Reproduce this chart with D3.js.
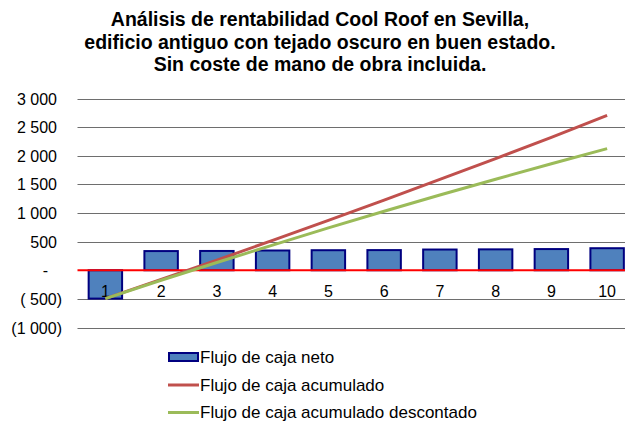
<!DOCTYPE html>
<html>
<head>
<meta charset="utf-8">
<script src="https://cdn.jsdelivr.net/npm/d3@7"></script>
<style>
  html, body { margin: 0; padding: 0; background: #fff; }
  svg { display: block; font-family: Arial, "Liberation Sans", sans-serif; }
</style>
</head>
<body>
<svg id="chart" width="625" height="423"></svg>
<script>
// Años del análisis
const years = [1, 2, 3, 4, 5, 6, 7, 8, 9, 10];
// Flujo de caja neto por año (€)
const netFlow = [-495, 335, 337, 345, 350, 352, 362, 365, 370, 385];
// Flujo de caja acumulado (€)
const cumFlow = [-495, -160, 177, 522, 872, 1224, 1586, 1951, 2321, 2706];
// Flujo de caja acumulado descontado (€)
const discFlow = [-495, -175, 135, 440, 740, 1030, 1315, 1590, 1860, 2125];
// Marcas del eje vertical
const yTicks = [-1000, -500, 0, 500, 1000, 1500, 2000, 2500, 3000];
const titleLines = [
  "Análisis de rentabilidad Cool Roof en Sevilla,",
  "edificio antiguo con tejado oscuro en buen estado.",
  "Sin coste de mano de obra incluida."
];
const legendLabels = ["Flujo de caja neto", "Flujo de caja acumulado", "Flujo de caja acumulado descontado"];

const colors = { barFill: "#4f81bd", barStroke: "#000080", cum: "#c0504d", disc: "#9bbb59", zero: "#ff0000", grid: "#6e6e6e" };

const svg = d3.select("#chart");

const x = d3.scaleBand().domain(years).range([77.5, 635]).paddingInner(0.4).paddingOuter(0.2);
const y = d3.scaleLinear().domain([-1000, 3000]).range([327.5, 98.5]);

// Formato contable: miles con espacio, negativos entre paréntesis, cero como guion
const grp = v => d3.format(",")(v).replace(/,/g, " ");
function acct(v) {
  if (v === 0) return "-";
  if (v < 0) return "(" + (Math.abs(v) < 1000 ? " " : "") + grp(Math.abs(v)) + ")";
  return grp(v);
}

// Título
svg.append("g").selectAll("text").data(titleLines).join("text")
  .attr("x", 320).attr("y", (d, i) => 26 + i * 22.5)
  .attr("text-anchor", "middle")
  .attr("font-size", 19.5).attr("font-weight", "bold").attr("fill", "#000")
  .text(d => d);

// Líneas de división
svg.append("g").selectAll("line").data(yTicks.filter(v => v !== 0)).join("line")
  .attr("x1", 77.5).attr("x2", 625)
  .attr("y1", d => Math.round(y(d)) + 0.5).attr("y2", d => Math.round(y(d)) + 0.5)
  .attr("stroke", colors.grid).attr("stroke-width", 1.2);

// Eje vertical (solo etiquetas)
const yAxis = svg.append("g").attr("transform", "translate(57,0)")
  .call(d3.axisLeft(y).tickValues(yTicks).tickSize(0).tickPadding(0).tickFormat(acct));
yAxis.select(".domain").remove();
yAxis.selectAll("text")
  .attr("font-size", 16).attr("fill", "#000").attr("font-family", "Arial, 'Liberation Sans', sans-serif")
  .attr("dy", "0.35em")
  .attr("x", d => d < 0 ? 5 : (d === 0 ? -9 : 0));

// Barras del flujo neto
svg.append("g").selectAll("rect").data(years).join("rect")
  .attr("x", (d) => x(d))
  .attr("width", x.bandwidth())
  .attr("y", (d, i) => y(Math.max(0, netFlow[i])))
  .attr("height", (d, i) => Math.abs(y(netFlow[i]) - y(0)))
  .attr("fill", colors.barFill).attr("stroke", colors.barStroke).attr("stroke-width", 2);

// Línea de cero
svg.append("line").attr("x1", 77.5).attr("x2", 625).attr("y1", y(0)).attr("y2", y(0))
  .attr("stroke", colors.zero).attr("stroke-width", 2);

// Etiquetas de categoría
svg.append("g").selectAll("text").data(years).join("text")
  .attr("x", d => x(d) + x.bandwidth() / 2).attr("y", 296.5)
  .attr("text-anchor", "middle").attr("font-size", 16).attr("fill", "#000")
  .text(d => d);

// Series acumuladas
const cx = d => x(d) + x.bandwidth() / 2;
const line = d3.line().x((d, i) => cx(years[i])).y(d => y(d));
svg.append("path").datum(cumFlow).attr("d", line)
  .attr("fill", "none").attr("stroke", colors.cum).attr("stroke-width", 3);
svg.append("path").datum(discFlow).attr("d", line)
  .attr("fill", "none").attr("stroke", colors.disc).attr("stroke-width", 3);

// Leyenda
const lg = svg.append("g");
const ly = [357, 385, 412.5];
lg.append("rect").attr("x", 169).attr("y", ly[0] - 4).attr("width", 29).attr("height", 8)
  .attr("fill", colors.barFill).attr("stroke", colors.barStroke).attr("stroke-width", 2);
lg.append("line").attr("x1", 168).attr("x2", 199).attr("y1", ly[1]).attr("y2", ly[1])
  .attr("stroke", colors.cum).attr("stroke-width", 3);
lg.append("line").attr("x1", 168).attr("x2", 199).attr("y1", ly[2]).attr("y2", ly[2])
  .attr("stroke", colors.disc).attr("stroke-width", 3);
lg.selectAll("text").data(legendLabels).join("text")
  .attr("x", 200).attr("y", (d, i) => ly[i]).attr("dy", "0.35em")
  .attr("font-size", 17).attr("fill", "#000")
  .text(d => d);
</script>
</body>
</html>
